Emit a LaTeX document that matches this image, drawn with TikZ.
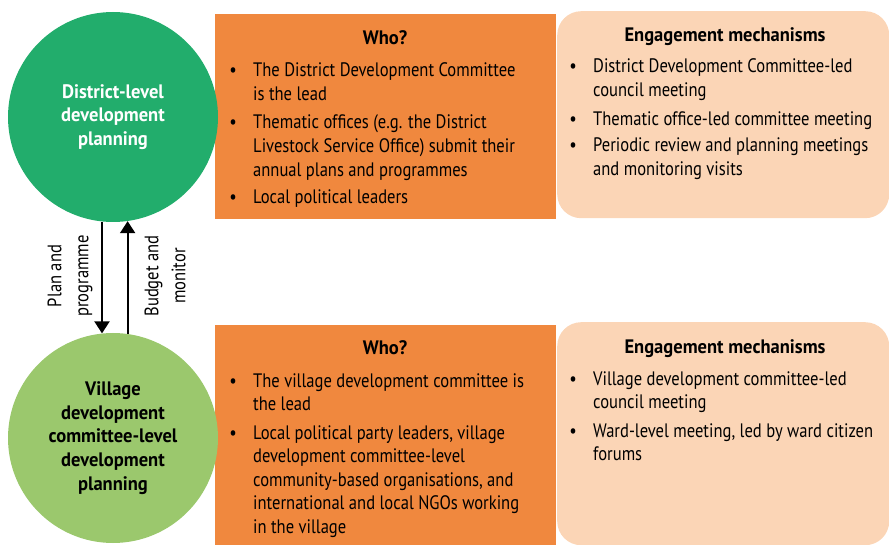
\documentclass[tikz,border=0pt]{standalone}
\usepackage{fontspec}
\setmainfont{PT Sans}[FakeStretch=0.85]
\newfontfamily\boldfam{PT Sans Bold}[FakeStretch=0.95]
\usetikzlibrary{arrows.meta}
\definecolor{dgreen}{HTML}{22AD6C}
\definecolor{lgreen}{HTML}{9BC86D}
\definecolor{orng}{HTML}{F0883E}
\definecolor{peach}{HTML}{FBD5B6}
\tikzset{
  txt/.style={font=\fontsize{19.5}{23.6}\selectfont, inner sep=0pt, align=left, anchor=base west},
  bul/.style={font=\fontsize{19.5}{23.6}\selectfont, inner sep=0pt, anchor=base},
  head/.style={font=\fontsize{19.5}{23.6}\selectfont\boldfam, inner sep=0pt, anchor=base},
  circ/.style={circle, minimum size=210pt, inner sep=0pt, align=center, font=\fontsize{19.5}{23.7}\selectfont\boldfam},
  whobox/.style={fill=orng, inner sep=0pt, anchor=north west},
  engbox/.style={fill=peach, rounded corners=24pt, inner sep=0pt, anchor=north west},
  lab/.style={rotate=90, align=center, inner sep=0pt, font=\fontsize{19.5}{27}\selectfont},
  arr/.style={line width=2pt, -{Triangle[width=15pt,length=12pt]}}
}
\begin{document}
\begin{tikzpicture}[x=1pt,y=-1pt]
\useasboundingbox (0,0) rectangle (889,545);
% boxes
\node[whobox, minimum width=341pt, minimum height=205pt] (w1) at (215,14) {};
\node[whobox, minimum width=341pt, minimum height=220pt] (w2) at (215,325) {};
\node[engbox, minimum width=332pt, minimum height=207pt] (e1) at (557,11) {};
\node[engbox, minimum width=332pt, minimum height=223pt] (e2) at (557,322) {};
% circles
\node[circ, fill=dgreen, text=white] (c1) at (113,117) {District-level\\development\\planning};
\node[circ, fill=lgreen, text=black] (c2) at (113,438) {Village\\development\\committee-level\\development\\planning};
% arrows
\draw[arr] (c1.264) -- (c2.96);
\draw[arr] (c2.82) -- (c1.278);
\node[lab] (l1) at (70,276) {Plan and\\programme};
\node[lab] (l2) at (165,276) {Budget and\\monitor};
% upper Who (base = last line's baseline)
\node[head] (h1) at (385,45) {Who?};
\node[bul] (b11) at (233,77) {•};
\node[txt] (t11) at (253,100.6) {The District Development Committee\\is the lead};
\node[bul] (b12) at (233,129) {•};
\node[txt] (t12) at (253,176.2) {Thematic offices (e.g. the District\\Livestock Service Office) submit their\\annual plans and programmes};
\node[bul] (b13) at (233,204) {•};
\node[txt] (t13) at (253,204) {Local political leaders};
% upper Engagement
\node[head] (h2) at (725,42) {Engagement mechanisms};
\node[bul] (b21) at (573,73) {•};
\node[txt] (t21) at (593,96.6) {District Development Committee-led\\council meeting};
\node[bul] (b22) at (573,126) {•};
\node[txt] (t22) at (593,126) {Thematic office-led committee meeting};
\node[bul] (b23) at (573,152) {•};
\node[txt] (t23) at (593,175.6) {Periodic review and planning meetings\\and monitoring visits};
% lower Who
\node[head] (h3) at (385,355) {Who?};
\node[bul] (b31) at (233,387) {•};
\node[txt] (t31) at (253,410.6) {The village development committee is\\the lead};
\node[bul] (b32) at (233,439) {•};
\node[txt] (t32) at (253,533.4) {Local political party leaders, village\\development committee-level\\community-based organisations, and\\international and local NGOs working\\in the village};
% lower Engagement
\node[head] (h4) at (725,353) {Engagement mechanisms};
\node[bul] (b41) at (573,385) {•};
\node[txt] (t41) at (593,408.6) {Village development committee-led\\council meeting};
\node[bul] (b42) at (573,437) {•};
\node[txt] (t42) at (593,460.6) {Ward-level meeting, led by ward citizen\\forums};
\end{tikzpicture}
\end{document}
